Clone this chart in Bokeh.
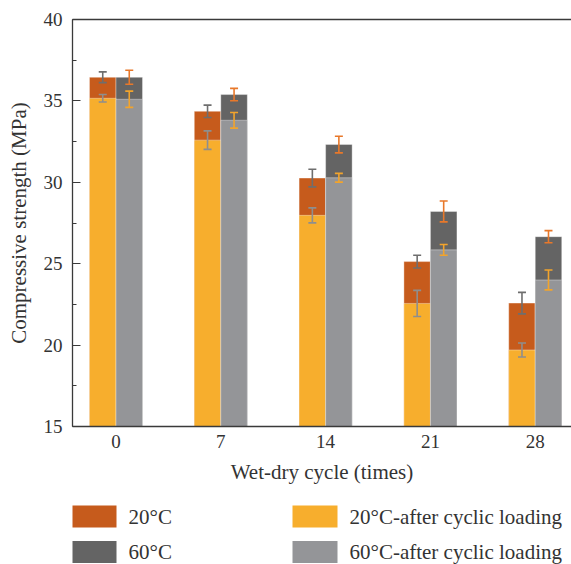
from bokeh.plotting import figure
from bokeh.models import (Range1d, FixedTicker, SingleIntervalTicker, LinearAxis,
                          Whisker, ColumnDataSource, TeeHead)
from bokeh.layouts import column
from bokeh.core.properties import value
from bokeh.embed import file_html
from bokeh.resources import INLINE

# ---------------- data ----------------
cycles = ["0", "7", "14", "21", "28"]
s20 = [36.45, 34.36, 30.26, 25.13, 22.58]
s20_err = [0.33, 0.38, 0.54, 0.39, 0.66]
s20_after = [35.16, 32.59, 27.97, 22.56, 19.70]
s20_after_err = [0.23, 0.57, 0.46, 0.80, 0.43]
s60 = [36.45, 35.39, 32.32, 28.21, 26.66]
s60_err = [0.43, 0.38, 0.51, 0.64, 0.37]
s60_after = [35.10, 33.81, 30.28, 25.85, 24.00]
s60_after_err = [0.50, 0.48, 0.27, 0.33, 0.61]
legend_labels = ["20°C", "60°C", "20°C-after cyclic loading", "60°C-after cyclic loading"]

C20 = "#C65B1C"
C60 = "#646464"
C20A = "#F7AE2D"
C60A = "#949598"
E20 = "#6E6E6E"
E20A = "#8E8E8E"
E60 = "#E8782A"
E60A = "#F2A42C"
FONT = "Liberation Serif"
TXT = "#333333"

idx = list(range(len(cycles)))
bw = 0.253
xl = [i - bw / 2 for i in idx]
xr = [i + bw / 2 for i in idx]

p = figure(width=571, height=490, x_range=Range1d(-0.415, 4.346), y_range=Range1d(15, 40),
           output_backend="svg", toolbar_location=None,
           min_border_left=72, min_border_right=0, min_border_top=19, min_border_bottom=64)
p.outline_line_color = None
p.grid.visible = False
p.background_fill_color = "white"
p.border_fill_color = "white"

# full bars
p.vbar(x=xl, top=s20, bottom=0, width=bw, fill_color=C20, line_color="white", line_alpha=0.35, line_width=1)
p.vbar(x=xr, top=s60, bottom=0, width=bw, fill_color=C60, line_color="white", line_alpha=0.35, line_width=1)
# after cyclic loading bars
p.vbar(x=xl, top=s20_after, bottom=0, width=bw, fill_color=C20A, line_color="white", line_alpha=0.35, line_width=1)
p.vbar(x=xr, top=s60_after, bottom=0, width=bw, fill_color=C60A, line_color="white", line_alpha=0.35, line_width=1)


def add_err(xs, vals, errs, color):
    src = ColumnDataSource(dict(x=xs, lo=[v - e for v, e in zip(vals, errs)],
                                hi=[v + e for v, e in zip(vals, errs)]))
    w = Whisker(base="x", lower="lo", upper="hi", source=src, line_color=color, line_width=1.6,
                level="annotation",
                upper_head=TeeHead(size=8, line_color=color, line_width=1.6),
                lower_head=TeeHead(size=8, line_color=color, line_width=1.6))
    p.add_layout(w)


add_err(xl, s20, s20_err, E20)
add_err(xr, s60, s60_err, E60)
add_err(xl, s20_after, s20_after_err, E20A)
add_err(xr, s60_after, s60_after_err, E60A)

# axes
xa = p.xaxis[0]
xa.ticker = FixedTicker(ticks=idx)
xa.major_label_overrides = {i: c for i, c in zip(idx, cycles)}
xa.major_tick_in = 0
xa.major_tick_out = 0
xa.minor_tick_in = 0
xa.minor_tick_out = 0
xa.axis_label = "Wet-dry cycle (times)"

ya = p.yaxis[0]
ya.ticker = SingleIntervalTicker(interval=5, num_minor_ticks=2)
ya.major_tick_in = 8
ya.major_tick_out = 0
ya.minor_tick_in = 4
ya.minor_tick_out = 0
ya.axis_label = "Compressive strength (MPa)"

for ax in (xa, ya):
    ax.axis_line_color = "#3A3A3A"
    ax.axis_line_width = 1.3
    ax.major_tick_line_color = "#3A3A3A"
    ax.minor_tick_line_color = "#3A3A3A"
    ax.major_label_text_font = FONT
    ax.major_label_text_font_size = "19px"
    ax.major_label_text_color = TXT
    ax.axis_label_text_font = FONT
    ax.axis_label_text_font_size = "21px"
    ax.axis_label_text_font_style = "normal"
    ax.axis_label_text_color = TXT
xa.major_label_standoff = 8
xa.axis_label_standoff = 9
ya.major_label_standoff = 10
ya.axis_label_standoff = 10

top = LinearAxis(ticker=FixedTicker(ticks=[]), major_tick_in=0, major_tick_out=0,
                 minor_tick_in=0, minor_tick_out=0, major_label_text_font_size="0px",
                 major_label_standoff=0, axis_line_color="#3A3A3A", axis_line_width=1.3)
p.add_layout(top, "above")

# ---------------- legend ----------------
# frame spans page pixels 72..571 (aligned with the main frame), so x is in page pixels
lg = figure(width=571, height=74, x_range=Range1d(72, 571), y_range=Range1d(74, 0),
            output_backend="svg", toolbar_location=None,
            x_axis_location=None, y_axis_location=None,
            min_border_left=72, min_border_right=0, min_border_top=0, min_border_bottom=0)
lg.grid.visible = False
lg.outline_line_color = None
lg.border_fill_color = "white"

col_x = [71, 71, 292, 292]
row_y = [26, 61.5, 26, 61.5]
colors = [C20, C60, C20A, C60A]
lg.quad(left=col_x, right=[x + 45 for x in col_x], top=[y - 11 for y in row_y],
        bottom=[y + 11 for y in row_y], fill_color=colors, line_color=None)
lg.text(x=[x + 57 for x in col_x], y=row_y, text=legend_labels, text_font=value(FONT),
        text_font_size="21px", text_color=TXT, text_baseline="middle", text_align="left")

layout = column(p, lg, spacing=0)
open("out.html", "w").write(file_html(layout, INLINE))
